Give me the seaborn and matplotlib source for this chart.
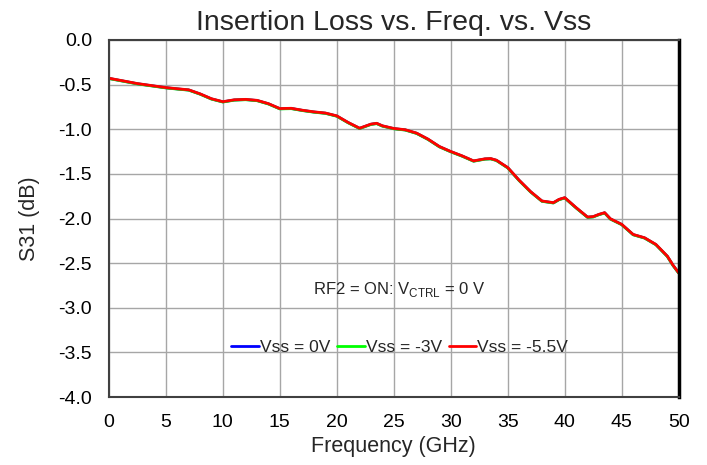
import numpy as np
import pandas as pd
import matplotlib
matplotlib.use("Agg")
import matplotlib.pyplot as plt
import seaborn as sns

# Frequency points (GHz) and S31 (dB); the three Vss
# traces lie on top of each other, red drawn last.
freq_ghz = [0, 2.5, 5, 6, 7, 8, 9, 10, 11, 12, 13, 14, 15, 16, 17, 18, 19, 20,
            21, 22, 23, 23.5, 24, 25, 26, 27, 28, 29, 30, 31, 32, 33, 33.5, 34,
            35, 36, 37, 38, 39, 39.5, 40, 41, 42, 42.5, 43, 43.5, 44, 45, 46,
            47, 48, 49, 49.5, 50]
s31_vss_0 = [-0.43, -0.49, -0.535, -0.548, -0.56, -0.605, -0.66, -0.693, -0.672,
             -0.667, -0.678, -0.715, -0.77, -0.767, -0.789, -0.807, -0.82, -0.852,
             -0.926, -0.99, -0.944, -0.935, -0.963, -0.993, -1.007, -1.045, -1.112,
             -1.195, -1.251, -1.30, -1.356, -1.333, -1.33, -1.348, -1.431, -1.573,
             -1.70, -1.805, -1.824, -1.787, -1.768, -1.88, -1.985, -1.98, -1.955,
             -1.936, -2.004, -2.067, -2.18, -2.217, -2.292, -2.423, -2.524, -2.61]
s31_vss_3 = [-0.432, -0.492, -0.537, -0.55, -0.562, -0.607, -0.662, -0.695, -0.674,
             -0.669, -0.68, -0.717, -0.772, -0.769, -0.791, -0.809, -0.822, -0.854,
             -0.928, -0.992, -0.946, -0.937, -0.965, -0.995, -1.009, -1.047, -1.114,
             -1.197, -1.253, -1.302, -1.358, -1.335, -1.332, -1.35, -1.433, -1.575,
             -1.702, -1.807, -1.826, -1.789, -1.77, -1.882, -1.987, -1.982, -1.957,
             -1.938, -2.006, -2.069, -2.182, -2.219, -2.294, -2.425, -2.526, -2.612]
s31_vss_55 = [-0.428, -0.488, -0.533, -0.546, -0.558, -0.603, -0.658, -0.691, -0.67,
              -0.665, -0.676, -0.713, -0.768, -0.765, -0.787, -0.805, -0.818, -0.85,
              -0.924, -0.988, -0.942, -0.933, -0.961, -0.991, -1.005, -1.043, -1.11,
              -1.193, -1.249, -1.298, -1.354, -1.331, -1.328, -1.346, -1.429, -1.571,
              -1.698, -1.803, -1.822, -1.785, -1.766, -1.878, -1.983, -1.978, -1.953,
              -1.934, -2.002, -2.065, -2.178, -2.215, -2.29, -2.421, -2.522, -2.608]
series_names = ["Vss = 0V", "Vss = -3V", "Vss = -5.5V"]
series_colors = ["#0000ff", "#00ff00", "#ff0000"]

df = pd.concat([
    pd.DataFrame({"freq": freq_ghz, "s31": vals, "Vss": name})
    for name, vals in zip(series_names, [s31_vss_0, s31_vss_3, s31_vss_55])
])

sns.set_style("white")
plt.rcParams["font.family"] = ["Liberation Sans", "DejaVu Sans"]

fig = plt.figure(figsize=(7.07, 4.65), dpi=100)
ax = fig.add_axes([0.154, 0.146, 0.806, 0.768])

sns.lineplot(data=df, x="freq", y="s31", hue="Vss", palette=series_colors,
             hue_order=series_names, linewidth=2, ax=ax)

ax.set_xlim(0, 50)
ax.set_ylim(-4.0, 0.0)
ax.set_xticks(np.arange(0, 51, 5))
ax.set_yticks(np.arange(-4.0, 0.01, 0.5))
ax.set_yticklabels([f"{v:.1f}" for v in np.arange(-4.0, 0.01, 0.5)])
ax.grid(True, color="#a6a6a6", linewidth=1)
ax.tick_params(axis="both", length=0, labelsize=14, pad=12, colors="black")

for side in ["left", "top", "bottom"]:
    ax.spines[side].set_color("#404040")
    ax.spines[side].set_linewidth(1.5)
ax.spines["right"].set_color("black")
ax.spines["right"].set_linewidth(2.5)

ax.set_xlabel("Frequency (GHz)", fontsize=15.5, labelpad=4)
ax.set_ylabel("S31 (dB)", fontsize=15.5, labelpad=13)
ax.set_title("Insertion Loss vs. Freq. vs. Vss", fontsize=20.5, pad=7)

ax.text(25.5, -2.79, r"RF2 = ON: V$_{\mathregular{CTRL}}$ = 0 V", ha="center", va="center",
        fontsize=12)

ax.legend(loc="center", bbox_to_anchor=(0.51, 0.14), ncol=3, frameon=False,
          fontsize=12.5, handlelength=1.6, handletextpad=0.05, columnspacing=0.4,
          borderpad=0.2)

fig.savefig("out.png", dpi=100)
